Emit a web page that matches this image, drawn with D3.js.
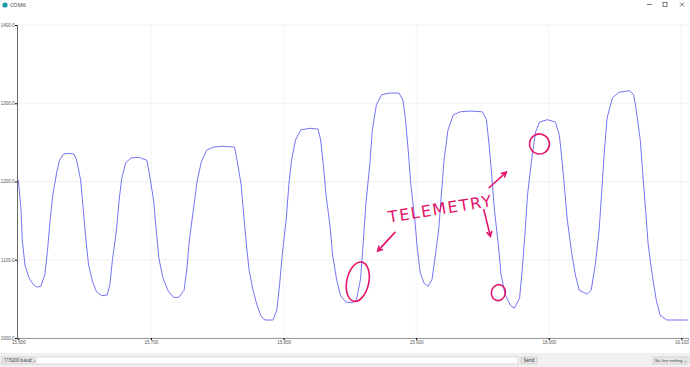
<!DOCTYPE html>
<html>
<head>
<meta charset="utf-8">
<script src="https://cdn.jsdelivr.net/npm/d3@7"></script>
<style>
  body { margin: 0; background: #fff; font-family: "Segoe UI", "Noto Sans", "DejaVu Sans", sans-serif; }
  svg { display: block; }
</style>
</head>
<body>
<div id="graph"></div>
<script>
// sample index offsets and readings
const startSample = 15600;
const sampleOffsets = [0, 2, 3, 5, 8, 11, 14, 17, 20, 22, 24, 26, 29, 31, 34, 38, 42, 44, 47, 49, 51, 53, 56, 59, 63, 67, 69, 71, 74, 76, 78, 81, 85, 91, 97, 99, 102, 104, 106, 109, 113, 117, 121, 125, 127, 129, 132, 135, 138, 142, 147, 154, 163, 165, 168, 170, 172, 174, 177, 180, 183, 186, 192, 195, 197, 199, 202, 204, 206, 209, 213, 220, 226, 228, 230, 232, 235, 237, 240, 243, 247, 252, 255, 258, 260, 262, 265, 267, 270, 274, 280, 287, 290, 292, 294, 296, 299, 301, 303, 306, 309, 312, 314, 317, 319, 321, 324, 328, 333, 341, 350, 353, 355, 357, 359, 362, 364, 367, 371, 374, 378, 380, 382, 384, 387, 390, 393, 399, 405, 408, 410, 412, 414, 417, 420, 423, 429, 432, 435, 438, 440, 442, 444, 448, 453, 461, 464, 466, 469, 471, 473, 475, 478, 481, 484, 489, 495, 500, 505];
const readings = [1202, 1164, 1125, 1093, 1077, 1069, 1065, 1066, 1081, 1112, 1151, 1183, 1212, 1227, 1235, 1236, 1235, 1227, 1202, 1164, 1125, 1093, 1072, 1059, 1054, 1055, 1068, 1100, 1138, 1176, 1204, 1224, 1230, 1231, 1227, 1208, 1176, 1138, 1102, 1077, 1060, 1052, 1052, 1061, 1087, 1125, 1164, 1202, 1225, 1240, 1244, 1245, 1244, 1227, 1196, 1157, 1119, 1087, 1061, 1042, 1028, 1023, 1023, 1036, 1068, 1106, 1151, 1196, 1227, 1253, 1266, 1268, 1267, 1253, 1221, 1183, 1144, 1106, 1075, 1054, 1046, 1045, 1049, 1075, 1119, 1170, 1221, 1266, 1298, 1311, 1313, 1313, 1304, 1279, 1240, 1196, 1151, 1112, 1084, 1070, 1066, 1075, 1100, 1138, 1183, 1227, 1266, 1285, 1289, 1290, 1289, 1279, 1247, 1208, 1164, 1119, 1081, 1056, 1042, 1038, 1051, 1087, 1132, 1183, 1227, 1263, 1276, 1279, 1276, 1259, 1227, 1189, 1151, 1112, 1081, 1061, 1056, 1061, 1093, 1138, 1189, 1240, 1281, 1307, 1314, 1316, 1311, 1291, 1253, 1208, 1164, 1119, 1081, 1049, 1029, 1023, 1023, 1023, 1023];

const yTicks = [1000, 1100, 1200, 1300, 1400];
const xTicks = [15600, 15700, 15800, 15900, 16000, 16100];

// hand-drawn notes, placed in data space
const noteText = "TELEMETRY";
const noteAt = [319, 1158];
const noteCircles = [[256, 1072, 11, 20], [362, 1058, 7, 8], [393, 1248, 10, 10]];
const noteArrows = [[284, 1135, 271, 1111], [355, 1192, 368, 1212], [351, 1164, 356, 1130]];

const w = 690, h = 367;
const mLeft = 17, mRight = 688, mTop = 25, mBottom = 338;
const pink = "#e3146b";

const data = sampleOffsets.map((o, i) => ({ s: startSample + o, v: readings[i] }));

const xScale = d3.scaleLinear()
                 .domain([startSample - 1, startSample + 505])
                 .range([mLeft, mRight]);
const yScale = d3.scaleLinear()
                 .domain([1000, 1400])
                 .range([mBottom, mTop]);

const svg = d3.select("#graph").append("svg").attr("width", w).attr("height", h);

// title bar
svg.append("circle").attr("cx", 5).attr("cy", 5).attr("r", 2.6).attr("fill", "#1d9ba8");
svg.append("text").attr("x", 10).attr("y", 7).attr("font-size", 5.5).attr("fill", "#444").text("COM6");
svg.append("line").attr("x1", 647).attr("x2", 652).attr("y1", 4.5).attr("y2", 4.5).attr("stroke", "#555").attr("stroke-width", 0.8);
svg.append("rect").attr("x", 663).attr("y", 2.5).attr("width", 4).attr("height", 4).attr("fill", "none").attr("stroke", "#555").attr("stroke-width", 0.8);
svg.append("path").attr("d", "M680,2.5L684,6.5M684,2.5L680,6.5").attr("stroke", "#555").attr("stroke-width", 0.8);

// grid
svg.append("g").selectAll("line").data(yTicks).enter().append("line")
   .attr("x1", mLeft).attr("x2", mRight)
   .attr("y1", d => yScale(d)).attr("y2", d => yScale(d))
   .attr("stroke", "#ececec").attr("stroke-width", 0.8);
svg.append("g").selectAll("line").data(xTicks.slice(1)).enter().append("line")
   .attr("x1", d => xScale(d)).attr("x2", d => xScale(d))
   .attr("y1", mTop).attr("y2", mBottom)
   .attr("stroke", "#f0f0f0").attr("stroke-width", 0.8);

const yAxis = d3.axisLeft(yScale).tickValues(yTicks).tickSize(2).tickFormat(d3.format(".1f"));
const xAxis = d3.axisBottom(xScale).tickValues(xTicks).tickSize(2).tickFormat(d3.format(","));

svg.append("g")
   .attr("transform", "translate(" + mLeft + ",0)")
   .call(yAxis)
   .call(g => g.select(".domain").attr("stroke", "#666"))
   .call(g => g.selectAll("text").attr("font-size", 4.5).attr("fill", "#555").attr("x", -2.5));

svg.append("g")
   .attr("transform", "translate(0," + mBottom + ")")
   .call(xAxis)
   .call(g => g.select(".domain").attr("stroke", "#999"))
   .call(g => g.selectAll("text").attr("font-size", 4.5).attr("fill", "#555").attr("y", 3));

// signal
svg.append("path")
   .datum(data)
   .attr("fill", "none")
   .attr("stroke", "#7474f4")
   .attr("stroke-width", 1)
   .attr("d", d3.line().x(d => xScale(d.s)).y(d => yScale(d.v)));

// annotations
const note = svg.append("g").attr("fill", "none").attr("stroke", pink).attr("stroke-width", 1.6).attr("stroke-linecap", "round");
note.selectAll("ellipse").data(noteCircles).enter().append("ellipse")
    .attr("cx", d => xScale(startSample + d[0])).attr("cy", d => yScale(d[1]))
    .attr("rx", d => d[2]).attr("ry", d => d[3])
    .attr("transform", d => "rotate(12," + xScale(startSample + d[0]) + "," + yScale(d[1]) + ")");
noteArrows.forEach(a => {
  const x1 = xScale(startSample + a[0]), y1 = yScale(a[1]);
  const x2 = xScale(startSample + a[2]), y2 = yScale(a[3]);
  const ang = Math.atan2(y2 - y1, x2 - x1);
  const hl = 5;
  note.append("path")
      .attr("d", "M" + x1 + "," + y1 + "L" + x2 + "," + y2 +
                 "M" + (x2 - hl * Math.cos(ang - 0.5)) + "," + (y2 - hl * Math.sin(ang - 0.5)) +
                 "L" + x2 + "," + y2 +
                 "L" + (x2 - hl * Math.cos(ang + 0.5)) + "," + (y2 - hl * Math.sin(ang + 0.5)));
});
svg.append("text")
   .attr("x", xScale(startSample + noteAt[0])).attr("y", yScale(noteAt[1]))
   .attr("text-anchor", "middle")
   .attr("transform", "rotate(-9," + xScale(startSample + noteAt[0]) + "," + yScale(noteAt[1]) + ")")
   .attr("font-family", "DejaVu Sans")
   .attr("font-size", 16)
   .attr("letter-spacing", 1.5)
   .attr("fill", pink)
   .text(noteText);

// bottom toolbar
svg.append("rect").attr("x", 0).attr("y", 353).attr("width", w).attr("height", 14).attr("fill", "#f0f0f0");
svg.append("rect").attr("x", 2).attr("y", 357).attr("width", 32).attr("height", 7).attr("fill", "#e8e8e8").attr("stroke", "#bbb").attr("stroke-width", 0.5);
svg.append("text").attr("x", 4).attr("y", 362.3).attr("font-size", 4.5).attr("fill", "#333").text("115200 baud  \u2304");
svg.append("rect").attr("x", 36).attr("y", 357).attr("width", 482).attr("height", 7).attr("fill", "#fff").attr("stroke", "#bbb").attr("stroke-width", 0.5);
svg.append("rect").attr("x", 521).attr("y", 357).attr("width", 16).attr("height", 7).attr("fill", "#e4e4e4").attr("stroke", "#bbb").attr("stroke-width", 0.5);
svg.append("text").attr("x", 529).attr("y", 362.3).attr("text-anchor", "middle").attr("font-size", 4.5).attr("fill", "#333").text("Send");
svg.append("rect").attr("x", 653).attr("y", 357).attr("width", 35).attr("height", 7).attr("fill", "#e8e8e8").attr("stroke", "#bbb").attr("stroke-width", 0.5);
svg.append("text").attr("x", 655).attr("y", 362.2).attr("font-size", 4).attr("fill", "#333").text("No line ending \u2304");
</script>
</body>
</html>
